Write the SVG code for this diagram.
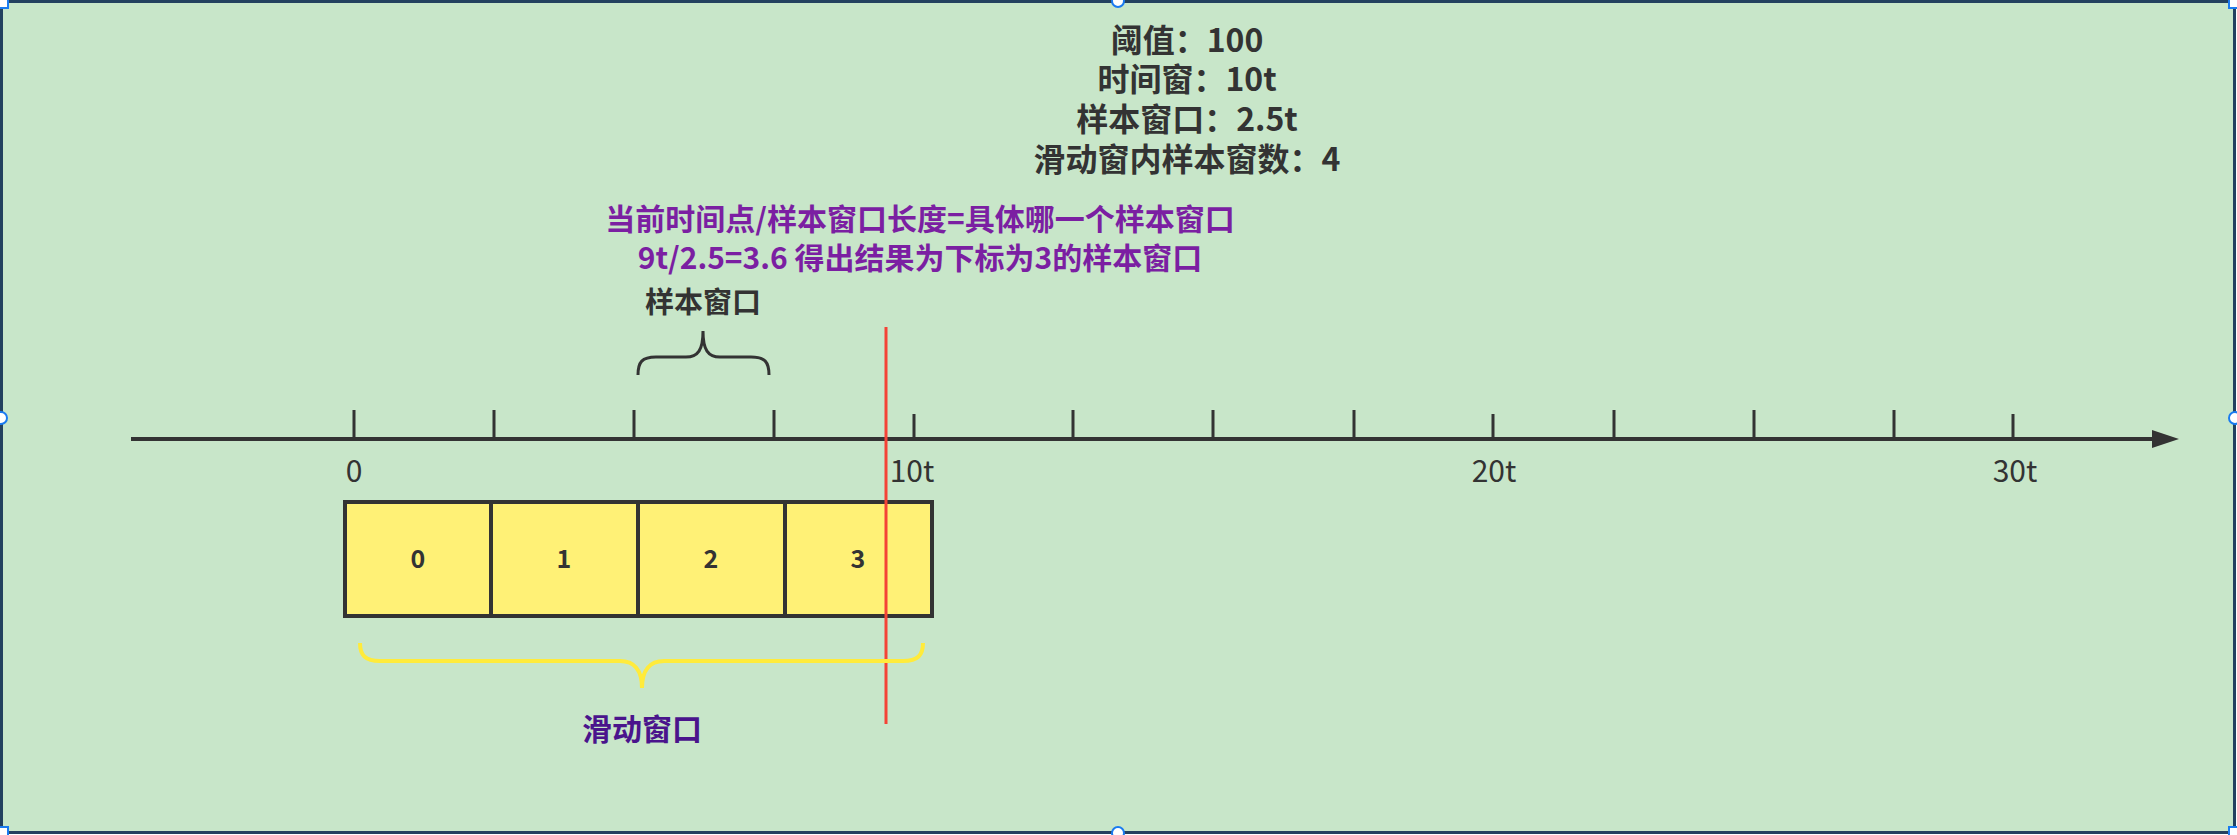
<svg xmlns="http://www.w3.org/2000/svg" width="2237" height="835" viewBox="0 0 2237 835">
<style>
.t{font-family:"Noto Sans CJK SC","Liberation Sans",sans-serif;text-anchor:middle}
.title{font-size:32px;font-weight:bold;fill:#333333}
.purple{font-size:30px;font-weight:bold;fill:#7B1FA2}
.lbl{font-size:30px;fill:#333333}
.cellt{font-size:25px;font-weight:bold;fill:#333333}
.cell{fill:#FFF176;stroke:#333333;stroke-width:4}
.tick{stroke:#333333;stroke-width:3}
.handle{fill:#ffffff;stroke:#1a7bf0;stroke-width:2}
</style>
<defs>
<marker id="arrow" markerUnits="userSpaceOnUse" markerWidth="27" markerHeight="18" refX="8" refY="9" orient="auto">
<path d="M0,0 L27,9 L0,18 z" fill="#333333"/>
</marker>
</defs>
<g id="background">
<rect x="1.5" y="1.5" width="2233" height="831" fill="#C8E6C9" stroke="#23415f" stroke-width="3"/>
</g>
<g id="params">
<text class="t title" x="1187" y="52">阈值：100</text>
<text class="t title" x="1187" y="91">时间窗：10t</text>
<text class="t title" x="1187" y="131">样本窗口：2.5t</text>
<text class="t title" x="1187" y="171">滑动窗内样本窗数：4</text>
</g>
<g id="formula">
<text class="t purple" x="920" y="230">当前时间点/样本窗口长度=具体哪一个样本窗口</text>
<text class="t purple" x="920" y="269">9t/2.5=3.6 得出结果为下标为3的样本窗口</text>
</g>
<g id="sample-window">
<text class="t" x="703" y="313" style="font-size:29px;font-weight:bold;fill:#333333">样本窗口</text>
<path d="M638,375 C638,362 642,357 656,357 L686,357 C698,357 703,350 703,331 C703,350 708,357 720,357 L751,357 C765,357 769,362 769,375" fill="none" stroke="#333333" stroke-width="3"/>
</g>
<g id="connectors">
<line x1="131" y1="439" x2="2160" y2="439" stroke="#333333" stroke-width="4" marker-end="url(#arrow)"/>
</g>
<g id="ticks">
<line class="tick" x1="354" y1="410" x2="439" y2="439" style="display:none"/>
<line class="tick" x1="354" y1="410" x2="354" y2="438"/>
<line class="tick" x1="494" y1="410" x2="494" y2="438"/>
<line class="tick" x1="634" y1="410" x2="634" y2="438"/>
<line class="tick" x1="774" y1="410" x2="774" y2="438"/>
<line class="tick" x1="914" y1="414" x2="914" y2="438"/>
<line class="tick" x1="1073" y1="410" x2="1073" y2="438"/>
<line class="tick" x1="1213" y1="410" x2="1213" y2="438"/>
<line class="tick" x1="1354" y1="410" x2="1354" y2="438"/>
<line class="tick" x1="1493" y1="414" x2="1493" y2="438"/>
<line class="tick" x1="1614" y1="410" x2="1614" y2="438"/>
<line class="tick" x1="1754" y1="410" x2="1754" y2="438"/>
<line class="tick" x1="1894" y1="410" x2="1894" y2="438"/>
<line class="tick" x1="2013" y1="414" x2="2013" y2="438"/>
</g>
<g id="axis-labels">
<text class="t lbl" x="354" y="482">0</text>
<text class="t lbl" x="912" y="482">10t</text>
<text class="t lbl" x="1494" y="482">20t</text>
<text class="t lbl" x="2015" y="482">30t</text>
</g>
<g id="cell-0">
<rect class="cell" x="345" y="502" width="146" height="114"/>
<text class="t cellt" x="418" y="568">0</text>
</g>
<g id="cell-1">
<rect class="cell" x="491" y="502" width="147" height="114"/>
<text class="t cellt" x="564" y="568">1</text>
</g>
<g id="cell-2">
<rect class="cell" x="638" y="502" width="147" height="114"/>
<text class="t cellt" x="711" y="568">2</text>
</g>
<g id="cell-3">
<rect class="cell" x="785" y="502" width="147" height="114"/>
<text class="t cellt" x="858" y="568">3</text>
</g>
<g id="current-time">
<line x1="886" y1="327" x2="886" y2="724" stroke="#F44336" stroke-width="3"/>
</g>
<g id="sliding-window">
<path d="M360,643 C360,655 365,661 380,661 L620,661 C634,661 642,670 642,688 C642,670 650,661 664,661 L903,661 C918,661 923,655 923,643" fill="none" stroke="#FFEB3B" stroke-width="4"/>
<text class="t" x="642" y="740" style="font-size:30px;font-weight:bold;fill:#4A148C">滑动窗口</text>
</g>
<g id="handles">
<rect class="handle" x="-1" y="-1" width="9" height="9"/>
<rect class="handle" x="2229" y="-1" width="9" height="9"/>
<rect class="handle" x="-1" y="827" width="9" height="9"/>
<rect class="handle" x="2229" y="827" width="9" height="9"/>
<circle class="handle" cx="1118" cy="1" r="6"/>
<circle class="handle" cx="1118" cy="833" r="6"/>
<circle class="handle" cx="1" cy="418" r="6"/>
<circle class="handle" cx="2235" cy="418" r="6"/>
</g>
</svg>
